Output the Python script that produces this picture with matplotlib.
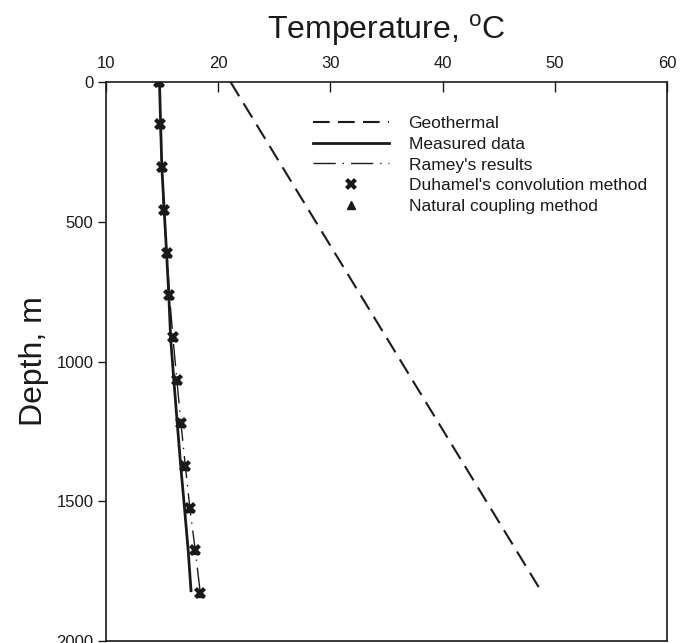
import numpy as np
import matplotlib
matplotlib.use("Agg")
import matplotlib.pyplot as plt

plt.rcParams['font.family'] = ['Liberation Sans', 'DejaVu Sans']
plt.rcParams['mathtext.fontset'] = 'custom'
plt.rcParams['mathtext.rm'] = 'Liberation Sans'

# Depths every 500 ft (in metres)
depth_points = [0, 152, 305, 457, 610, 762, 914, 1067, 1219, 1372, 1524, 1676, 1829]

# Geothermal temperature profile
geo_depth = [0, 1829]
geo_temp = [21.1, 48.9]

# Measured data
measured_depth = [0, 305, 610, 762, 914, 1067, 1219, 1372, 1524, 1676, 1820]
measured_temp = [14.77, 14.98, 15.40, 15.60, 15.76, 16.05, 16.35, 16.66, 17.00, 17.33, 17.58]

# Ramey's results
ramey_temp = [14.77, 14.83, 14.98, 15.13, 15.43, 15.66, 15.97, 16.32, 16.68, 17.07, 17.48, 17.96, 18.41]

# Duhamel's convolution method
duhamel_temp = [14.77, 14.83, 14.98, 15.13, 15.43, 15.66, 15.97, 16.32, 16.68, 17.07, 17.48, 17.96, 18.41]

# Natural coupling method
coupling_temp = [14.77, 14.83, 14.98, 15.13, 15.43, 15.66, 15.97, 16.32, 16.68, 17.07, 17.48, 17.96, 18.41]

# Create Figure
figure_1 = plt.figure(figsize=(6.88, 6.43), dpi=100)
axis_1 = figure_1.add_axes([0.154, 0.003, 0.8155, 0.8695])

ink = '#1a1a1a'

axis_1.plot(geo_temp, geo_depth, color=ink, lw=1.5, linestyle=(0, (8, 4)), label="Geothermal")
axis_1.plot(measured_temp, measured_depth, color=ink, lw=2.0, label="Measured data")
axis_1.plot(ramey_temp, depth_points, color=ink, lw=1.0, linestyle=(0, (16, 5, 1, 5)), label="Ramey's results")
axis_1.plot(coupling_temp, depth_points, linestyle='none', marker='^', markersize=6,
            color=ink, label="Natural coupling method")
axis_1.plot(duhamel_temp, depth_points, linestyle='none', marker='X', markersize=8.5,
            color=ink, markeredgewidth=0, label="Duhamel's convolution method")

axis_1.set_xlim(10, 60)
axis_1.set_ylim(2000, 0)
axis_1.set_xticks([10, 20, 30, 40, 50, 60])
axis_1.set_yticks([0, 500, 1000, 1500, 2000])

axis_1.xaxis.set_ticks_position('top')
axis_1.xaxis.set_label_position('top')
axis_1.tick_params(axis='x', direction='in', length=7, width=1, pad=8, labelsize=12, colors=ink)
axis_1.tick_params(axis='y', direction='out', length=6, width=1, pad=3, labelsize=12, colors=ink)

for spine in axis_1.spines.values():
    spine.set_linewidth(1.2)
    spine.set_color(ink)

# Set Labels
axis_1.set_xlabel("Temperature, $^{\\mathrm{o}}$C", fontsize=23, color=ink, labelpad=12)
axis_1.set_ylabel("Depth, m", fontsize=23, color=ink, labelpad=5)

handles, labels = axis_1.get_legend_handles_labels()
order = [0, 1, 2, 4, 3]
axis_1.legend([handles[i] for i in order], [labels[i] for i in order],
              loc='upper left', bbox_to_anchor=(0.455, 0.8196), bbox_transform=figure_1.transFigure,
              frameon=False, fontsize=12.5, handlelength=4.4, handletextpad=1.1,
              labelspacing=0.32, borderpad=0, borderaxespad=0, labelcolor=ink)

plt.savefig("out.png", dpi=100)
plt.close()
